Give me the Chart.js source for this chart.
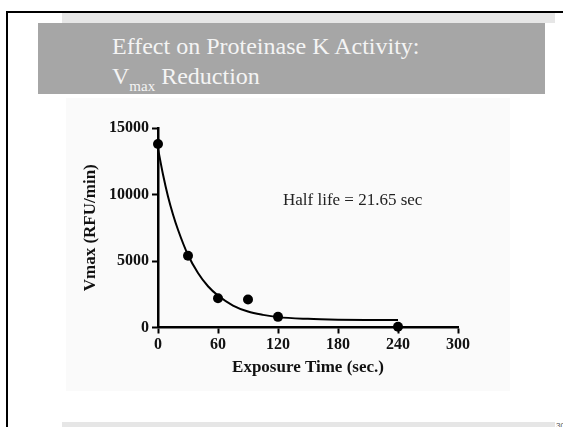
<!DOCTYPE html>
<html>
<head>
<meta charset="utf-8">
<script src="https://cdn.jsdelivr.net/npm/chart.js@4.4.1/dist/chart.umd.min.js"></script>
<style>
  html, body { margin: 0; padding: 0; }
  body { width: 563px; height: 427px; background: #fff; position: relative; overflow: hidden; font-family: "Liberation Serif", "Times New Roman", serif; }
  .frame { position: absolute; left: 6px; top: 11px; width: 570px; height: 430px; border-left: 2px solid #000; border-top: 2px solid #000; }
  .band { position: absolute; background: #e6e6e6; left: 62px; width: 493px; }
  .head { position: absolute; left: 38px; top: 23px; width: 507px; height: 71px; background: #a6a6a6; color: #f4f4f4; font-size: 24px; }
  .head div { position: absolute; left: 74px; white-space: nowrap; line-height: 1; }
  .head sub { font-size: 15px; vertical-align: -7px; line-height: 0; }
  #wrap { position: absolute; left: 66px; top: 98px; width: 444px; height: 293px; background: #fafafa; }
  .pg { position: absolute; left: 556px; top: 421px; font-size: 8px; color: #555; font-family: Arial, sans-serif; }
</style>
</head>
<body>
<div class="frame"></div>
<div class="band" style="top:13px;height:10px"></div>
<div class="head">
  <div style="top:11px">Effect on Proteinase K Activity:</div>
  <div style="top:41px">V<sub>max</sub> Reduction</div>
</div>
<div id="wrap"><canvas id="c" width="444" height="293"></canvas></div>
<div class="band" style="top:422px;height:10px"></div>
<div class="pg">30</div>

<script>
// measured points
const timeSec = [0, 30, 60, 90, 120, 240];
const vmax = [13800, 5400, 2200, 2100, 800, 50];

// fitted decay curve
const fitTime = [0, 5, 10, 15, 20, 30, 40, 50, 60, 75, 90, 105, 120, 150, 180, 210, 240];
const fitVmax = [13450, 11500, 9850, 8500, 7350, 5450, 4100, 3100, 2400, 1650, 1200, 950, 780, 650, 590, 565, 555];

const xTicks = [0, 60, 120, 180, 240, 300];
const yTicks = [0, 5000, 10000, 15000];

const halfLifeNote = 'Half life = 21.65 sec';

const noteLabel = {
  id: 'noteLabel',
  afterDatasetsDraw(chart) {
    const ctx = chart.ctx;
    const x = chart.scales.x.getPixelForValue(125);
    const y = chart.scales.y.getPixelForValue(9200);
    ctx.save();
    ctx.font = '17px "Liberation Serif"';
    ctx.fillStyle = '#222';
    ctx.textAlign = 'left';
    ctx.textBaseline = 'alphabetic';
    ctx.fillText(halfLifeNote, x, y);
    ctx.restore();
  }
};

const tickFont = { family: 'Liberation Serif', size: 16, weight: 'bold' };
const titleFont = { family: 'Liberation Serif', size: 17, weight: 'bold' };

new Chart(document.getElementById('c'), {
  type: 'scatter',
  data: {
    datasets: [
      {
        data: fitTime.map((t, i) => ({ x: t, y: fitVmax[i] })),
        showLine: true,
        borderColor: '#000',
        borderWidth: 2,
        pointRadius: 0,
        cubicInterpolationMode: 'monotone',
        clip: false
      },
      {
        data: timeSec.map((t, i) => ({ x: t, y: vmax[i] })),
        showLine: false,
        pointRadius: 5,
        pointBackgroundColor: '#000',
        pointBorderColor: '#000',
        pointBorderWidth: 0,
        clip: false
      }
    ]
  },
  options: {
    responsive: false,
    animation: false,
    layout: { padding: { left: 0, right: 52, top: 30, bottom: 9 } },
    plugins: { legend: { display: false }, tooltip: { enabled: false } },
    scales: {
      x: {
        type: 'linear',
        min: 0,
        max: 300,
        afterFit(s) { s.height = 54.5; },
        afterBuildTicks(s) { s.ticks = xTicks.map(v => ({ value: v })); },
        border: { display: true, color: '#000', width: 2.5 },
        grid: { drawOnChartArea: false, drawTicks: true, tickLength: 6, tickWidth: 2, tickColor: '#000' },
        ticks: { color: '#111', font: tickFont, padding: 2, callback: v => String(v) },
        title: { display: true, text: 'Exposure Time (sec.)', color: '#111', font: titleFont, padding: { top: 4, bottom: 4 } }
      },
      y: {
        type: 'linear',
        min: 0,
        max: 15000,
        afterFit(s) { s.width = 92; },
        afterBuildTicks(s) { s.ticks = yTicks.map(v => ({ value: v })); },
        border: { display: true, color: '#000', width: 2.5 },
        grid: { drawOnChartArea: false, drawTicks: true, tickLength: 6, tickWidth: 2, tickColor: '#000' },
        ticks: { color: '#111', font: tickFont, padding: 3, callback: v => String(v) },
        title: { display: true, text: 'Vmax (RFU/min)', color: '#111', font: titleFont, padding: { top: 14, bottom: 4 } }
      }
    }
  },
  plugins: [noteLabel]
});
</script>
</body>
</html>
